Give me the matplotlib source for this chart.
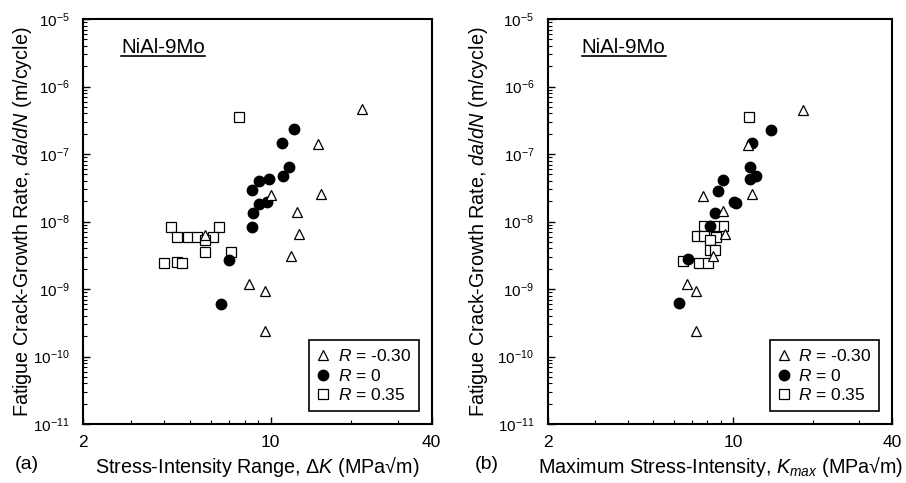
import matplotlib
matplotlib.use("Agg")
import matplotlib.pyplot as plt
from matplotlib.lines import Line2D
from matplotlib.ticker import FixedLocator, NullFormatter, LogFormatterSciNotation

plt.rcParams['font.family'] = ['Liberation Sans', 'DejaVu Sans']
plt.rcParams['mathtext.fontset'] = 'custom'
plt.rcParams['mathtext.rm'] = 'Liberation Sans'
plt.rcParams['mathtext.it'] = 'Liberation Sans:italic'

# (a) stress-intensity range, dK
dk_neg = [22.0, 15.0, 15.4, 10.0, 12.6, 12.8, 11.9, 8.3, 9.57, 9.57, 5.68]
da_neg = [4.6e-7, 1.41e-7, 2.6e-8, 2.47e-8, 1.38e-8, 6.5e-9, 3.1e-9, 1.19e-9, 9.4e-10, 2.4e-10, 6.3e-9]
dk_zero = [12.2, 11.0, 11.7, 11.1, 9.87, 9.09, 8.55, 9.71, 9.03, 8.61, 8.53, 7.02, 6.53]
da_zero = [2.37e-7, 1.47e-7, 6.5e-8, 4.8e-8, 4.3e-8, 4.0e-8, 2.9e-8, 1.92e-8, 1.82e-8, 1.35e-8, 8.4e-9, 2.7e-9, 6.1e-10]
dk_pos = [7.63, 4.26, 6.4, 4.49, 4.91, 5.33, 6.12, 5.68, 5.68, 7.1, 3.99, 4.47, 4.67]
da_pos = [3.57e-7, 8.4e-9, 8.4e-9, 5.96e-9, 5.96e-9, 5.96e-9, 5.96e-9, 5.3e-9, 3.57e-9, 3.57e-9, 2.4e-9, 2.54e-9, 2.4e-9]

# (b) maximum stress-intensity, Kmax
km_neg = [18.3, 11.4, 11.8, 7.7, 9.17, 9.35, 8.4, 6.7, 7.23, 7.23]
db_neg = [4.5e-7, 1.36e-7, 2.6e-8, 2.4e-8, 1.42e-8, 6.5e-9, 3.1e-9, 1.19e-9, 9.4e-10, 2.4e-10]
km_zero = [13.96, 11.8, 11.6, 12.2, 11.6, 9.12, 8.78, 10.3, 10.1, 8.57, 8.2, 6.76, 6.23]
db_zero = [2.3e-7, 1.47e-7, 6.4e-8, 4.8e-8, 4.27e-8, 4.07e-8, 2.86e-8, 1.86e-8, 1.95e-8, 1.35e-8, 8.6e-9, 2.75e-9, 6.3e-10]
km_pos = [11.5, 7.75, 9.17, 7.31, 7.75, 8.65, 8.16, 8.2, 8.53, 6.44, 7.42, 8.05, 8.45]
db_pos = [3.5e-7, 8.6e-9, 8.6e-9, 6.1e-9, 6.1e-9, 5.96e-9, 5.4e-9, 3.8e-9, 3.75e-9, 2.6e-9, 2.4e-9, 2.4e-9, 8.6e-9]

labels = ['$R$ = -0.30', '$R$ = 0', '$R$ = 0.35']
ylab = 'Fatigue Crack-Growth Rate, $da/dN$ (m/cycle)'
xlabs = ['Stress-Intensity Range, $\\Delta K$ (MPa\u221am)',
         'Maximum Stress-Intensity, $K_{max}$ (MPa\u221am)']
y_major = [1e-11, 1e-10, 1e-9, 1e-8, 1e-7, 1e-6, 1e-5]
y_minor = [m * d for d in y_major[:-1] for m in range(2, 10)]

fig = plt.figure(figsize=(9.06, 4.83), dpi=100)
ax1 = fig.add_axes([0.092, 0.122, 0.3845, 0.8385])
ax2 = fig.add_axes([0.605, 0.122, 0.380, 0.8385])

panels = [(ax1, dk_neg, da_neg, dk_zero, da_zero, dk_pos, da_pos, xlabs[0], '(a)', 0.108, -0.143, -0.196),
          (ax2, km_neg, db_neg, km_zero, db_zero, km_pos, db_pos, xlabs[1], '(b)', 0.098, -0.169, -0.213)]

titles = []
for ax, xn, yn, xz, yz, xp, yp, xl, tag, tx, ylx, tagx in panels:
    ax.plot(xp, yp, 's', ms=6.8, mfc='white', mec='black', mew=0.9, ls='none', label=labels[2])
    ax.plot(xz, yz, 'o', ms=7.5, mfc='black', mec='black', ls='none', label=labels[1])
    ax.plot(xn, yn, '^', ms=7, mfc='white', mec='black', mew=0.9, ls='none', label=labels[0])
    ax.set_xscale('log')
    ax.set_yscale('log')
    ax.set_xlim(2, 40)
    ax.set_ylim(1e-11, 1e-5)
    ax.xaxis.set_major_locator(FixedLocator([2, 10, 40]))
    ax.set_xticklabels(['2', '10', '40'])
    ax.xaxis.set_minor_locator(FixedLocator([3, 4, 5, 6, 7, 8, 9, 20, 30]))
    ax.xaxis.set_minor_formatter(NullFormatter())
    ax.yaxis.set_major_locator(FixedLocator(y_major))
    ax.yaxis.set_major_formatter(LogFormatterSciNotation())
    ax.yaxis.set_minor_locator(FixedLocator(y_minor))
    ax.yaxis.set_minor_formatter(NullFormatter())
    ax.tick_params(which='both', direction='in', top=False, right=False)
    ax.tick_params(axis='y', labelsize=11, pad=10)
    ax.tick_params(axis='x', labelsize=12.5, pad=8)
    ax.tick_params(which='major', length=5, width=1)
    ax.tick_params(which='minor', length=3, width=0.8)
    for s in ax.spines.values():
        s.set_linewidth(1.5)
    ax.set_ylabel(ylab, fontsize=14.2)
    ax.yaxis.set_label_coords(ylx, 0.5)
    ax.set_xlabel(xl, fontsize=14.2)
    ax.xaxis.set_label_coords(0.5, -0.074)
    h, l = ax.get_legend_handles_labels()
    leg = ax.legend(h[::-1], l[::-1], loc='lower right', fontsize=12.5, frameon=True,
                    fancybox=False, edgecolor='black', framealpha=1,
                    handlelength=0.7, handletextpad=0.5, borderpad=0.45,
                    labelspacing=0.2, borderaxespad=0.75)
    leg.get_frame().set_linewidth(1.2)
    t = ax.text(tx, 0.93, 'NiAl-9Mo', transform=ax.transAxes, fontsize=14.8,
                ha='left', va='center')
    titles.append(t)
    ax.text(tagx, -0.101, tag, transform=ax.transAxes, fontsize=14,
            ha='left', va='center')

# underline the alloy names
fig.canvas.draw()
r = fig.canvas.get_renderer()
inv = fig.transFigure.inverted()
for t in titles:
    bb = t.get_window_extent(r).transformed(inv)
    fig.add_artist(Line2D([bb.x0, bb.x1], [bb.y0 + 0.002, bb.y0 + 0.002],
                          color='black', lw=1.2))

fig.savefig('out.png', dpi=100)
